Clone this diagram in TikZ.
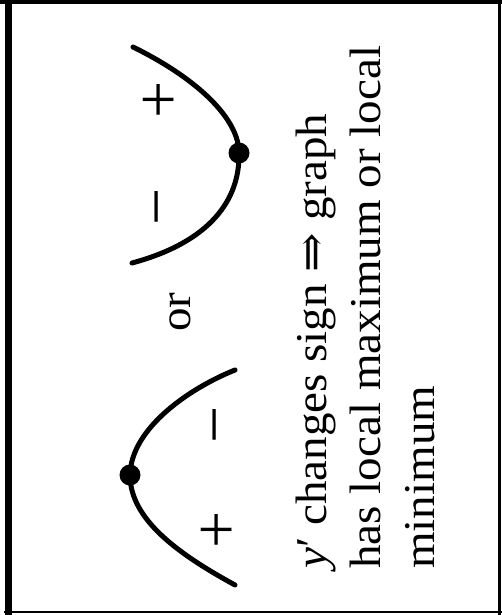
\documentclass[tikz,border=0pt]{standalone}
\usepackage{fontspec}
\setmainfont{Liberation Serif}
\newfontfamily\arrowfont{DejaVu Serif}
\tikzset{
  curve/.style={line width=5pt, line cap=round},
  pt/.style={circle, fill, inner sep=0pt, minimum size=21pt},
  txt/.style={rotate=90, anchor=base west, inner sep=0pt, font=\fontsize{44}{54}\selectfont},
  sgn/.style={rotate=90, inner sep=0pt, font=\fontsize{66}{70}\selectfont},
  frame/.style={line cap=rect}
}
\begin{document}
\begin{tikzpicture}[x=1pt,y=-1pt]
\useasboundingbox (0,0) rectangle (502,615);
\fill[white] (0,0) rectangle (502,615);
% frame
\draw[frame, line width=4pt] (0,2) -- (502,2);
\draw[frame, line width=7pt] (8.5,0) -- (8.5,613);
\draw[frame, line width=3pt] (499.5,0) -- (499.5,613);
\draw[frame, line width=2pt] (5,612) -- (502,612);
% upper curve (minimum)
\node[pt] (minpt) at (239,153) {};
\coordinate (a1) at (133,47);
\coordinate (a2) at (132,263);
\draw[curve] (a1) .. controls (200,80) and (239,120) .. (minpt.center)
  .. controls (240,200) and (210,242) .. (a2);
\node[sgn] (plusA) at (162,100) {+};
\node[sgn] (minusA) at (167,207) {−};
% lower curve (maximum)
\node[pt] (maxpt) at (130,475) {};
\coordinate (b1) at (235,370);
\coordinate (b2) at (235,585);
\draw[curve] (b1) .. controls (190,388) and (131,428) .. (maxpt.center)
  .. controls (130,520) and (180,555) .. (b2);
\node[sgn] (minusB) at (225,425) {−};
\node[sgn] (plusB) at (220,530) {+};
% texts
\node[txt] (or) at (190,332) {\scalebox{1.07}[1]{or}};
\node[txt] (l1) at (326,569) {\scalebox{1.07}[1]{\itshape y\upshape′ changes sign {\arrowfont ⇒} graph}};
\node[txt] (l2) at (380,569) {\scalebox{1.07}[1]{has local maximum or local}};
\node[txt] (l3) at (434,569) {\scalebox{1.07}[1]{minimum}};
\end{tikzpicture}
\end{document}
